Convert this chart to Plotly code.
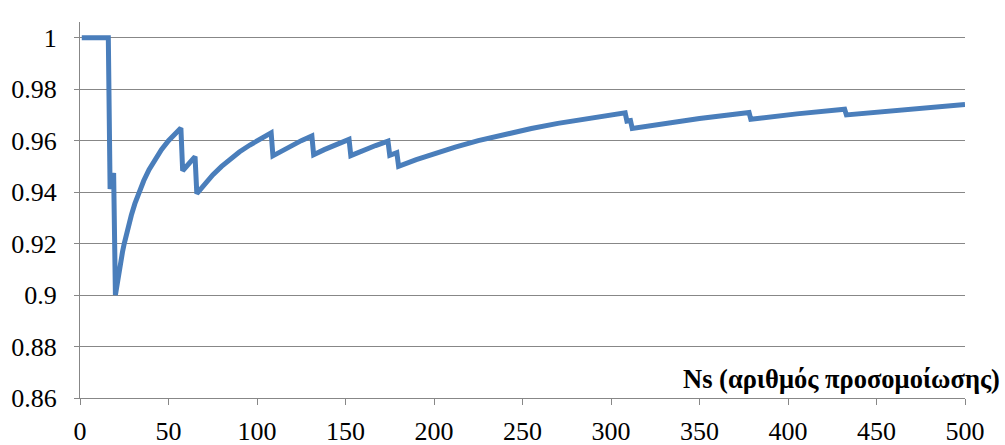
import plotly.graph_objects as go

# Ns (simulation number) and the running ratio at each Ns
ns = [1, 16, 17, 18, 19,
      20, 21, 22, 23, 24, 25, 27, 29, 31, 33, 36, 39, 42, 46, 50, 54, 57,
      58, 61, 65,
      66, 68, 71, 75, 80, 85, 90, 96, 102, 108,
      109, 115, 120, 125, 131,
      132, 138, 145, 152,
      153, 160, 167, 174,
      175, 179,
      180, 190, 200, 212, 225, 240, 255, 270, 290, 308,
      309, 311,
      312, 330, 350, 378,
      379, 405, 432,
      433, 465, 500]
ratio = [1.0000, 1.0000, 0.9412, 0.9444, 0.9474,
         0.9000, 0.9048, 0.9091, 0.9130, 0.9167, 0.9200, 0.9259, 0.9310, 0.9355,
         0.9394, 0.9444, 0.9487, 0.9524, 0.9565, 0.9600, 0.9630, 0.9649,
         0.9483, 0.9508, 0.9538,
         0.9394, 0.9412, 0.9437, 0.9467, 0.9500, 0.9529, 0.9556, 0.9583, 0.9608, 0.9630,
         0.9541, 0.9565, 0.9583, 0.9600, 0.9618,
         0.9545, 0.9565, 0.9586, 0.9605,
         0.9542, 0.9563, 0.9581, 0.9598,
         0.9543, 0.9553,
         0.9500, 0.9526, 0.9550, 0.9575, 0.9600, 0.9625, 0.9647, 0.9667, 0.9690, 0.9708,
         0.9676, 0.9678,
         0.9647, 0.9667, 0.9686, 0.9709,
         0.9683, 0.9704, 0.9722,
         0.9700, 0.9720, 0.9740]

x_ticks = [0, 50, 100, 150, 200, 250, 300, 350, 400, 450, 500]
y_ticks = [0.86, 0.88, 0.90, 0.92, 0.94, 0.96, 0.98, 1.00]
y_labels = ["0.86", "0.88", "0.9", "0.92", "0.94", "0.96", "0.98", "1"]
x_title = "Ns (αριθμός προσομοίωσης)"

grid = "#878787"
font_family = "'Liberation Serif', 'Times New Roman', serif"

fig = go.Figure()
fig.add_trace(go.Scatter(
    x=ns, y=ratio, mode="lines",
    line=dict(color="#4A7EBB", width=5),
    showlegend=False, hoverinfo="skip",
))

fig.update_layout(
    width=1005, height=445,
    margin=dict(l=80, r=40, t=22, b=47, autoexpand=False),
    paper_bgcolor="white", plot_bgcolor="white",
    font=dict(family=font_family, size=26, color="black"),
    xaxis=dict(
        range=[0, 500], tickvals=x_ticks, automargin=False,
        showgrid=False, zeroline=False,
        showline=True, linecolor=grid, linewidth=1.3,
        ticks="outside", ticklen=6, tickcolor=grid, tickwidth=1.3,
        ticklabelstandoff=4,
        tickfont=dict(family=font_family, size=26, color="black"),
    ),
    yaxis=dict(
        range=[0.86, 1.0061], tickvals=y_ticks, ticktext=y_labels,
        automargin=False,
        showgrid=True, gridcolor=grid, gridwidth=1.3,
        zeroline=False,
        showline=True, linecolor=grid, linewidth=1.3,
        ticks="outside", ticklen=5, tickcolor=grid, tickwidth=1.3,
        ticklabelstandoff=12,
        tickfont=dict(family=font_family, size=26, color="black"),
    ),
    annotations=[dict(
        text="<b>" + x_title + "</b>",
        xref="paper", yref="paper", x=1.0418, y=0.0505,
        xanchor="right", yanchor="middle", showarrow=False,
        font=dict(family=font_family, size=26.5, color="black"),
    )],
)

fig.write_html("out.html")
